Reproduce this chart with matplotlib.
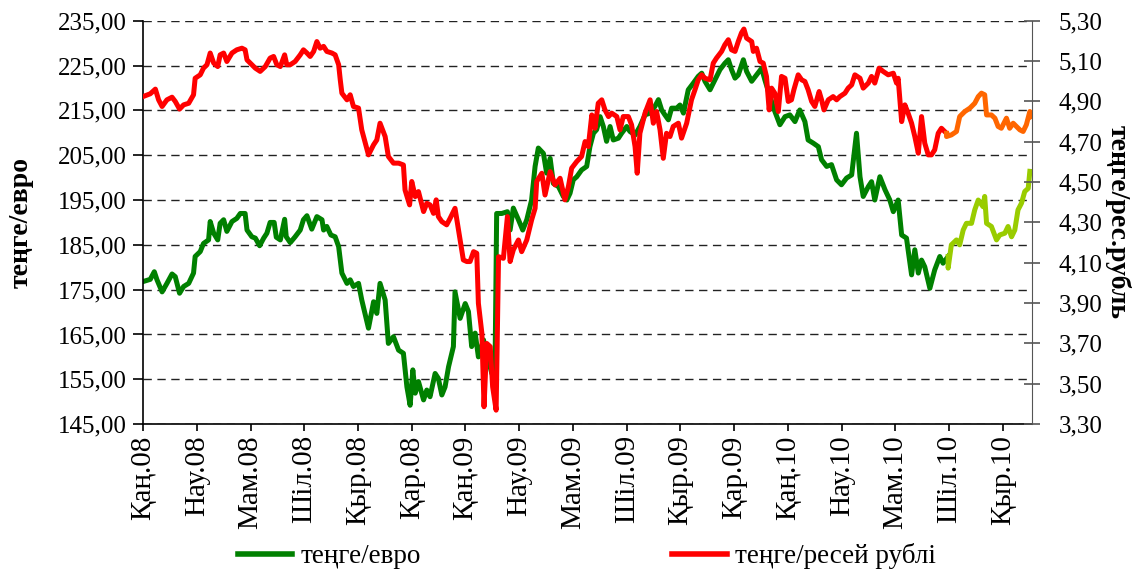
import matplotlib
matplotlib.use("Agg")
import matplotlib.pyplot as plt
from matplotlib.lines import Line2D
from matplotlib.ticker import FuncFormatter

plt.rcParams['font.family'] = ['Liberation Serif', 'DejaVu Serif']

# months since Jan 2008
eur_months = [
    0.00, 0.27, 0.42, 0.52, 0.71, 0.89, 1.08, 1.20, 1.36, 1.51, 1.70, 1.88, 1.94, 2.13, 2.25,
    2.44, 2.50, 2.63, 2.78, 2.87, 3.00, 3.12, 3.31, 3.49, 3.62, 3.80, 3.87, 4.05, 4.18, 4.34,
    4.49, 4.61, 4.73, 4.88, 4.96, 5.11, 5.27, 5.33, 5.48, 5.66, 5.85, 5.97, 6.10, 6.28, 6.47,
    6.66, 6.72, 6.84, 6.99, 7.15, 7.28, 7.40, 7.59, 7.71, 7.83, 8.02, 8.14, 8.39, 8.58, 8.70,
    8.82, 9.01, 9.13, 9.32, 9.51, 9.69, 9.82, 9.94, 10.04, 10.13, 10.25, 10.44, 10.56,
    10.68, 10.87, 10.99, 11.12, 11.24, 11.37, 11.55, 11.61, 11.80, 11.99, 12.11, 12.23, 12.36,
    12.48, 12.67, 12.85, 12.98, 13.10, 13.16, 13.35, 13.56, 13.66, 13.78, 13.97, 14.13, 14.28,
    14.46, 14.59, 14.71, 14.90, 15.02, 15.15, 15.27, 15.46, 15.64, 15.77, 15.89, 16.01, 16.14,
    16.32, 16.51, 16.63, 16.76, 16.88, 17.01, 17.13, 17.25, 17.38, 17.50, 17.69, 17.81, 18.00,
    18.12, 18.31, 18.49, 18.68, 18.87, 19.05, 19.18, 19.30, 19.42, 19.55, 19.67, 19.86, 19.98,
    20.11, 20.29, 20.48, 20.66, 20.79, 20.91, 21.10, 21.28, 21.47, 21.65, 21.78,
    21.90, 22.03, 22.15, 22.34, 22.46, 22.65, 22.83, 23.02, 23.14, 23.33, 23.51, 23.70, 23.89,
    24.07, 24.26, 24.44, 24.63, 24.75, 24.94, 25.13, 25.25, 25.44, 25.62, 25.81, 25.99, 26.18,
    26.37, 26.55, 26.68, 26.80, 26.99, 27.11, 27.23, 27.42, 27.61, 27.79, 27.92, 28.10, 28.23,
    28.41, 28.60, 28.72, 28.85, 28.97, 29.09, 29.28, 29.46, 29.65, 29.77, 29.96,
]
eur = [
    176.8, 177.3, 179.0, 177.2, 174.5, 176.4, 178.5, 177.9, 174.2, 175.7, 176.4, 178.7, 182.4, 183.5, 185.3,
    186.1, 190.2, 187.6, 186.1, 189.8, 190.6, 188.0, 190.2, 190.9, 192.0, 192.0, 188.3, 186.8, 186.5, 184.8,
    186.5, 187.6, 190.0, 190.0, 186.7, 186.1, 190.7, 186.8, 185.5, 186.8, 188.3, 190.6, 191.5, 188.5, 191.3,
    190.6, 188.3, 189.1, 187.2, 186.8, 184.6, 178.7, 176.4, 177.2, 175.7, 176.4, 172.7, 166.4, 172.3, 169.7,
    176.4, 172.7, 163.0, 164.5, 161.5, 160.8, 153.3, 149.2, 157.1, 151.9, 154.5, 150.4, 152.6,
    151.1, 156.3, 155.2, 151.5, 153.3, 157.8, 162.3, 174.5, 168.6, 171.9, 170.1, 162.3, 165.3,
    160.0, 163.8, 159.3, 156.3, 157.8, 192.0, 192.0, 192.4, 188.3, 193.2, 190.6, 188.3, 190.6,
    195.0, 202.5, 206.6, 205.4, 201.0, 204.3, 198.7, 198.0, 195.8, 195.0, 196.5, 199.5, 200.2,
    201.7, 202.5, 206.9, 209.9, 210.7, 213.6, 211.4, 208.1, 211.4, 208.4, 208.8, 209.9, 211.4,
    210.3, 209.5, 211.4, 214.0, 214.4, 215.9, 217.4, 215.1, 214.0, 212.9, 215.5, 215.5, 216.2,
    214.4, 219.6, 221.1, 222.6, 223.3, 221.5, 219.6, 221.8, 224.1, 225.5, 226.3,
    224.1, 222.2, 222.9, 226.3, 223.7, 221.5, 222.9, 224.4, 221.8, 218.1, 214.8, 211.8, 213.6,
    214.0, 212.5, 215.1, 212.5, 208.4, 207.7, 206.9, 204.0, 202.5, 202.9, 199.5, 198.4, 199.9,
    200.6, 209.9, 200.2, 195.8, 198.0, 199.1, 195.0, 200.2, 197.3, 195.0, 192.4, 195.0, 187.2,
    186.5, 178.3, 183.9, 178.7, 181.6, 180.1, 175.3, 179.4, 182.4, 180.9, 182.4,
]
eur_new_months = [
    29.96, 30.08, 30.27, 30.39, 30.52, 30.64, 30.83, 30.95, 31.08, 31.26, 31.32, 31.39,
    31.57, 31.76, 31.88, 32.07, 32.19, 32.32, 32.44, 32.56, 32.69, 32.81, 32.94, 33.00,
]
eur_new = [
    179.8, 185.0, 186.1, 185.0, 188.3, 189.8, 189.8, 192.8, 195.0, 193.5, 195.8, 189.8,
    189.1, 186.1, 187.2, 187.6, 189.1, 186.8, 188.3, 192.8, 194.3, 196.9, 197.6, 201.4,
]

rub_months = [
    0.00, 0.27, 0.46, 0.58, 0.71, 0.89, 1.08, 1.20, 1.36, 1.51, 1.70, 1.88, 1.94, 2.13, 2.25,
    2.38, 2.50, 2.63, 2.78, 2.87, 3.00, 3.12, 3.31, 3.49, 3.68, 3.80, 3.87, 4.05, 4.18, 4.36,
    4.55, 4.73, 4.86, 4.98, 5.11, 5.27, 5.35, 5.48, 5.66, 5.85, 5.97, 6.10, 6.22, 6.35, 6.47,
    6.59, 6.72, 6.84, 7.03, 7.15, 7.28, 7.34, 7.40, 7.59, 7.71, 7.83, 8.02, 8.14, 8.39, 8.58,
    8.70, 8.82, 9.01, 9.13, 9.32, 9.51, 9.69, 9.75, 9.92, 10.00, 10.13, 10.25, 10.44, 10.56,
    10.68, 10.81, 10.91, 10.99, 11.12, 11.30, 11.43, 11.61, 11.74, 11.92, 12.05, 12.17, 12.30,
    12.42, 12.48, 12.61, 12.69, 12.79, 12.92, 13.01, 13.14, 13.23, 13.41, 13.56, 13.66, 13.78,
    13.97, 14.09, 14.28, 14.46, 14.59, 14.65, 14.84, 14.96, 15.15, 15.33, 15.52, 15.70, 15.83,
    15.95, 16.14, 16.32, 16.45, 16.57, 16.70, 16.82, 16.94, 17.07, 17.19, 17.32, 17.44, 17.63,
    17.75, 17.87, 18.06, 18.18, 18.31, 18.39, 18.49, 18.68, 18.87, 18.99, 19.11, 19.24, 19.36,
    19.48, 19.61, 19.73, 19.92, 20.04, 20.23, 20.41, 20.54, 20.66, 20.79, 20.91, 21.10, 21.22,
    21.34, 21.53, 21.65, 21.78,
    21.90, 22.03, 22.15, 22.27, 22.36, 22.46, 22.65, 22.71, 22.83, 22.96, 23.08, 23.20, 23.30,
    23.39, 23.51, 23.64, 23.76, 23.89, 24.01, 24.13, 24.22, 24.38, 24.51, 24.63, 24.75, 24.88,
    25.00, 25.16, 25.25, 25.34, 25.50, 25.68, 25.81, 25.93, 26.12, 26.24, 26.37, 26.49, 26.68,
    26.80, 26.99, 27.11, 27.23, 27.39, 27.54, 27.73, 27.92, 28.04, 28.10, 28.23, 28.35, 28.47,
    28.60, 28.72, 28.85, 28.97, 29.09, 29.22, 29.34, 29.46, 29.59, 29.71, 29.90,
]
rub = [
    4.924, 4.938, 4.961, 4.908, 4.875, 4.908, 4.921, 4.900, 4.862, 4.883, 4.891, 4.933, 5.015, 5.032, 5.065,
    5.082, 5.140, 5.090, 5.073, 5.131, 5.140, 5.098, 5.140, 5.156, 5.164, 5.156, 5.106, 5.082, 5.065, 5.049,
    5.073, 5.115, 5.123, 5.082, 5.073, 5.131, 5.082, 5.082, 5.098, 5.131, 5.156, 5.140, 5.123, 5.148, 5.197,
    5.164, 5.173, 5.148, 5.140, 5.131, 5.082, 5.007, 4.941, 4.908, 4.933, 4.875, 4.867, 4.759, 4.635, 4.685,
    4.709, 4.792, 4.726, 4.627, 4.594, 4.594, 4.585, 4.461, 4.387, 4.503, 4.428, 4.453, 4.354, 4.395,
    4.387, 4.345, 4.412, 4.329, 4.304, 4.288, 4.321, 4.370, 4.263, 4.114, 4.106, 4.106, 4.155,
    4.147, 3.899, 3.750, 3.386, 3.700, 3.684, 3.485, 3.369, 4.130, 4.122, 4.329, 4.106, 4.164,
    4.213, 4.155, 4.213, 4.312, 4.370, 4.503, 4.544, 4.436, 4.552, 4.486, 4.519, 4.412, 4.478,
    4.569, 4.602, 4.627, 4.701, 4.676, 4.833, 4.767, 4.891, 4.908, 4.858, 4.825, 4.842, 4.825,
    4.759, 4.825, 4.825, 4.784, 4.676, 4.544, 4.742, 4.842, 4.908, 4.792, 4.850, 4.759, 4.618,
    4.742, 4.726, 4.776, 4.792, 4.718, 4.792, 4.908, 4.958, 5.007, 5.032, 5.015, 5.007, 5.090,
    5.115, 5.148, 5.181, 5.206,
    5.156, 5.148, 5.197, 5.240, 5.259, 5.214, 5.197, 5.148, 5.164, 5.098, 5.090, 5.024, 4.858,
    4.966, 4.941, 4.850, 5.024, 5.015, 4.900, 4.908, 4.958, 5.032, 5.007, 4.999, 4.958, 4.900,
    4.875, 4.949, 4.908, 4.858, 4.908, 4.924, 4.908, 4.924, 4.941, 4.966, 4.982, 5.032, 5.015,
    4.966, 4.991, 5.024, 4.991, 5.065, 5.049, 5.032, 5.040, 4.991, 5.015, 4.800, 4.883, 4.842,
    4.792, 4.726, 4.643, 4.825, 4.693, 4.635, 4.635, 4.660, 4.742, 4.767, 4.742,
]
rub_new_months = [
    29.90, 30.08, 30.27, 30.39, 30.58, 30.77, 30.95, 31.08, 31.20, 31.32, 31.39, 31.57,
    31.70, 31.82, 31.94, 32.13, 32.25, 32.38, 32.50, 32.63, 32.75, 32.87, 33.00, 33.06,
]
rub_new = [
    4.726, 4.734, 4.751, 4.825, 4.850, 4.867, 4.891, 4.924, 4.941, 4.933, 4.833, 4.833,
    4.817, 4.776, 4.767, 4.817, 4.767, 4.792, 4.776, 4.759, 4.751, 4.784, 4.850, 4.825,
]

tick_labels = ['Қаң.08', 'Нау.08', 'Мам.08', 'Шіл.08', 'Қыр.08', 'Қар.08',
               'Қаң.09', 'Нау.09', 'Мам.09', 'Шіл.09', 'Қыр.09', 'Қар.09',
               'Қаң.10', 'Нау.10', 'Мам.10', 'Шіл.10', 'Қыр.10']
eur_ticks = [145 + 10 * i for i in range(10)]
rub_ticks = [3.3 + 0.2 * i for i in range(11)]

GREEN = '#008000'
LIGHT_GREEN = '#99CC00'
RED = '#FF0000'
ORANGE = '#FF6600'
LW = 3.6


def comma(fmt):
    return FuncFormatter(lambda v, p: format(v, fmt).replace('.', ','))


fig = plt.figure(figsize=(11.35, 5.77), dpi=100)
ax = fig.add_axes([0.126, 0.265, 0.783, 0.699])
ax2 = ax.twinx()

ax.plot(eur_months, eur, color=GREEN, lw=LW, solid_joinstyle='round')
ax.plot([eur_months[-1]] + eur_new_months, [eur[-1]] + eur_new, color=LIGHT_GREEN, lw=LW,
        solid_joinstyle='round')
ax2.plot(rub_months, rub, color=RED, lw=LW, solid_joinstyle='round')
ax2.plot([rub_months[-1]] + rub_new_months, [rub[-1]] + rub_new, color=ORANGE, lw=LW,
         solid_joinstyle='round')

ax.set_xlim(0, 33.07)
ax.set_ylim(145, 235)
ax2.set_ylim(3.3, 5.3)
ax.set_yticks(eur_ticks)
ax2.set_yticks(rub_ticks)
ax.yaxis.set_major_formatter(comma('.2f'))
ax2.yaxis.set_major_formatter(comma('.2f'))

ax.set_xticks(range(0, 33, 2))
ax.set_xticklabels(tick_labels, rotation=90)

ax.grid(axis='y', color='#222222', linestyle=(0, (6, 4)), lw=1.0)
ax.set_axisbelow(True)

for a in (ax, ax2):
    a.spines['top'].set_visible(False)
ax.spines['right'].set_visible(False)
ax2.spines['left'].set_visible(False)
ax2.spines['bottom'].set_visible(False)
ax2.spines['right'].set_color('#555555')
ax.spines['left'].set_linewidth(1.2)
ax.spines['bottom'].set_linewidth(1.2)

ax.tick_params(axis='y', labelsize=18, length=7, width=1.2, direction='out', pad=5)
ax.tick_params(axis='x', labelsize=21, length=5, width=1.2, direction='out', pad=3)
ax2.tick_params(axis='y', labelsize=18, length=11, width=1.2, direction='inout',
                colors='#555555', labelcolor='black', pad=14)

ax.set_ylabel('теңге/евро', fontsize=20, fontweight='bold', labelpad=17)
ax2.set_ylabel('теңге/рес.рубль', fontsize=20, fontweight='bold', rotation=270, labelpad=20)

handles = [Line2D([], [], color=GREEN, lw=4), Line2D([], [], color=RED, lw=4)]
fig.legend(handles, ['теңге/евро', 'теңге/ресей рублі'], loc='center',
           bbox_to_anchor=(0.517, 0.036), ncol=2, frameon=False, fontsize=19.5,
           handlelength=2.0, handletextpad=0.3, columnspacing=9.3)

fig.savefig('out.png', dpi=100)
